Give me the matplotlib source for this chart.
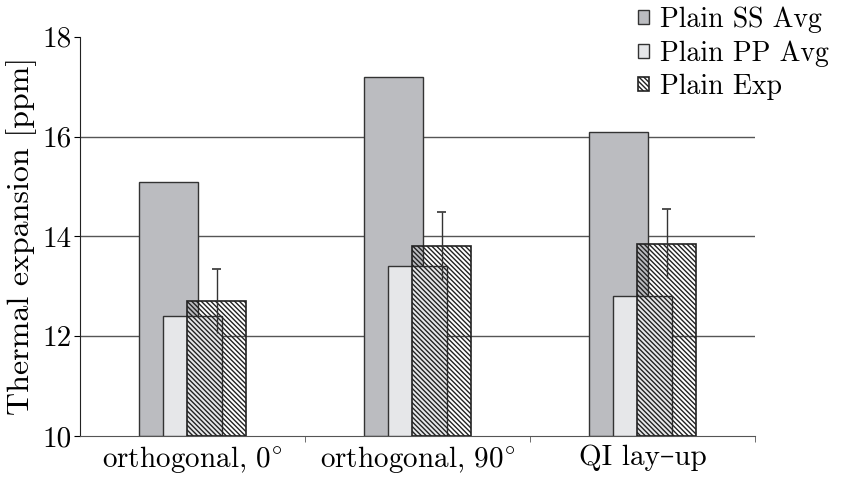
import matplotlib
matplotlib.use('Agg')
import matplotlib.pyplot as plt
import numpy as np

categories = ['orthogonal, $0^{\\circ}$', 'orthogonal, $90^{\\circ}$', 'QI lay\u2013up']
ss_avg = [15.1, 17.2, 16.1]
pp_avg = [12.4, 13.4, 12.8]
exp_val = [12.7, 13.8, 13.85]
exp_err = [0.64, 0.68, 0.69]

plt.rcParams['font.family'] = ['cmr10', 'DejaVu Serif']
plt.rcParams['mathtext.fontset'] = 'cm'
plt.rcParams['axes.unicode_minus'] = False
plt.rcParams['hatch.linewidth'] = 1.0
plt.rcParams['hatch.color'] = '#222222'

fig = plt.figure(figsize=(8.41, 4.84), dpi=100)
ax = fig.add_axes([0.095, 0.099, 0.803, 0.825])

x = np.arange(len(categories))
w = 0.262
off = 0.107

for yv in [12, 14, 16]:
    ax.axhline(yv, color='#555555', lw=1.0, zorder=0)

ax.bar(x - off, np.array(ss_avg) - 10, w, bottom=10, color='#bbbcc0', edgecolor='#333333', lw=1.0,
       label='Plain SS Avg', zorder=2)
ax.bar(x, np.array(pp_avg) - 10, w, bottom=10, color='#e6e7e9', edgecolor='#333333', lw=1.0,
       label='Plain PP Avg', zorder=3)
ax.bar(x + off, np.array(exp_val) - 10, w, bottom=10, facecolor='none', edgecolor='#222222', lw=1.2,
       hatch='\\\\\\\\\\\\\\', label='Plain Exp', zorder=4)

lo = np.array(exp_val) - np.array(exp_err)
hi = np.array(exp_val) + np.array(exp_err)
ax.vlines(x + off, lo, hi, color='#333333', lw=1.0, zorder=5)
ax.hlines(hi, x + off - 0.02, x + off + 0.02, color='#333333', lw=1.2, zorder=5)

ax.set_xlim(-0.5, 2.5)
ax.set_ylim(10, 18)
ax.set_yticks([10, 12, 14, 16, 18])
ax.set_xticks(x)
ax.set_xticklabels(categories)
ax.set_xticks([0.5, 1.5, 2.5], minor=True)
ax.tick_params(axis='x', which='major', length=0, labelsize=21, pad=6)
ax.tick_params(axis='x', which='minor', length=4, color='#555555')
ax.tick_params(axis='y', labelsize=21, length=4, pad=2)
ax.set_ylabel('Thermal expansion [ppm]', fontsize=23, labelpad=4)

for s in ['top', 'right']:
    ax.spines[s].set_visible(False)
ax.spines['bottom'].set_color('#555555')
ax.spines['left'].set_color('#222222')

fig.legend(loc='upper left', bbox_to_anchor=(0.742, 1.015), frameon=False, fontsize=20,
           borderpad=0.0, handlelength=0.4, handleheight=0.4, handletextpad=0.4,
           labelspacing=0.25)

fig.savefig('out.png', dpi=100)
